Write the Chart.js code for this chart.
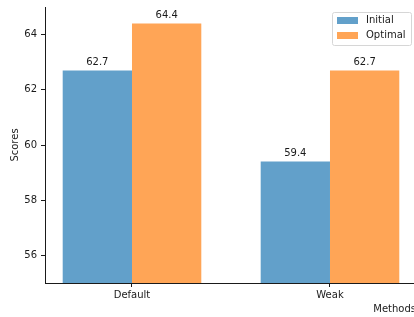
<!DOCTYPE html>
<html>
<head>
<meta charset="utf-8">
<script src="https://cdn.jsdelivr.net/npm/chart.js@4"></script>
<style>
  html, body { margin: 0; padding: 0; background: #fff; overflow: hidden; }
  #wrap { width: 414px; height: 317px; overflow: hidden; }
</style>
</head>
<body>
<div id="wrap"><canvas id="scoresChart" width="416" height="317"></canvas></div>
<script>
const methods = ['Default', 'Weak'];
const initialScores = [62.7, 59.4];
const optimalScores = [64.4, 62.7];
const scoreTicks = [56, 58, 60, 62, 64];

const FONT = 'DejaVu Sans';
const INK = '#1a1a1a';

// value labels on top of bars + legend box in the upper right
const barLabels = {
    id: 'barLabels',
    afterDatasetsDraw(chart) {
        const ctx = chart.ctx;
        ctx.save();
        ctx.font = '10px "' + FONT + '"';
        ctx.fillStyle = INK;
        ctx.textAlign = 'center';
        ctx.textBaseline = 'bottom';
        chart.data.datasets.forEach(function (ds, i) {
            chart.getDatasetMeta(i).data.forEach(function (bar, j) {
                ctx.fillText(ds.data[j].y.toFixed(1), bar.x, bar.y - 3);
            });
        });
        ctx.restore();
    },
    afterDraw(chart) {
        const ctx = chart.ctx;
        const x0 = 332.5, y0 = 12.5, w = 79, h = 33;
        ctx.save();
        ctx.beginPath();
        ctx.roundRect(x0, y0, w, h, 2);
        ctx.fillStyle = 'rgba(255,255,255,0.8)';
        ctx.fill();
        ctx.strokeStyle = '#d6d6d6';
        ctx.lineWidth = 1;
        ctx.stroke();
        ctx.font = '10px "' + FONT + '"';
        ctx.textBaseline = 'middle';
        ctx.textAlign = 'left';
        chart.data.datasets.forEach(function (ds, i) {
            const cy = 20.5 + i * 15;
            ctx.fillStyle = ds.backgroundColor;
            ctx.fillRect(337, cy - 3.5, 21, 7);
            ctx.fillStyle = INK;
            ctx.fillText(ds.label, 366, cy);
        });
        ctx.restore();
    }
};

const ctx = document.getElementById('scoresChart').getContext('2d');
new Chart(ctx, {
    type: 'bar',
    data: {
        datasets: [{
            label: 'Initial',
            data: initialScores.map((v, i) => ({ x: i, y: v })),
            backgroundColor: 'rgba(31, 119, 180, 0.7)',
            borderWidth: 0
        }, {
            label: 'Optimal',
            data: optimalScores.map((v, i) => ({ x: i, y: v })),
            backgroundColor: 'rgba(255, 127, 14, 0.7)',
            borderWidth: 0
        }]
    },
    plugins: [barLabels],
    options: {
        responsive: false,
        animation: false,
        devicePixelRatio: 1,
        categoryPercentage: 0.7,
        barPercentage: 1.0,
        layout: { padding: { top: 7, right: 0, left: 0, bottom: 0 } },
        plugins: {
            legend: { display: false },
            tooltip: { enabled: false }
        },
        scales: {
            x: {
                type: 'linear',
                offset: false,
                min: -0.4394,
                max: 1.4344,
                afterBuildTicks: function (scale) {
                    scale.ticks = methods.map((m, i) => ({ value: i }));
                },
                afterFit: function (scale) {
                    scale.height = 34;
                    scale.paddingLeft = 0;
                    scale.paddingRight = 0;
                },
                ticks: {
                    callback: (v) => methods[v],
                    color: INK,
                    font: { family: FONT, size: 10 },
                    padding: 2,
                    maxRotation: 0
                },
                grid: { offset: false, drawOnChartArea: false, drawTicks: true, tickLength: 4, color: INK },
                border: { display: true, color: INK, width: 1 },
                title: {
                    display: true,
                    text: 'Methods',
                    align: 'end',
                    color: INK,
                    font: { family: FONT, size: 10 },
                    padding: { top: 0, bottom: 2 }
                }
            },
            y: {
                min: 55,
                max: 65,
                afterBuildTicks: function (scale) {
                    scale.ticks = scoreTicks.map(v => ({ value: v }));
                },
                afterFit: function (scale) {
                    scale.width = 45;
                    scale.paddingTop = 0;
                    scale.paddingBottom = 0;
                },
                ticks: {
                    color: INK,
                    font: { family: FONT, size: 10 },
                    padding: 4
                },
                grid: { drawOnChartArea: false, drawTicks: true, tickLength: 4, color: INK },
                border: { display: true, color: INK, width: 1 },
                title: {
                    display: true,
                    text: 'Scores',
                    color: INK,
                    font: { family: FONT, size: 10 },
                    padding: { top: 9.5, bottom: 0 }
                }
            }
        }
    }
});
</script>
</body>
</html>
